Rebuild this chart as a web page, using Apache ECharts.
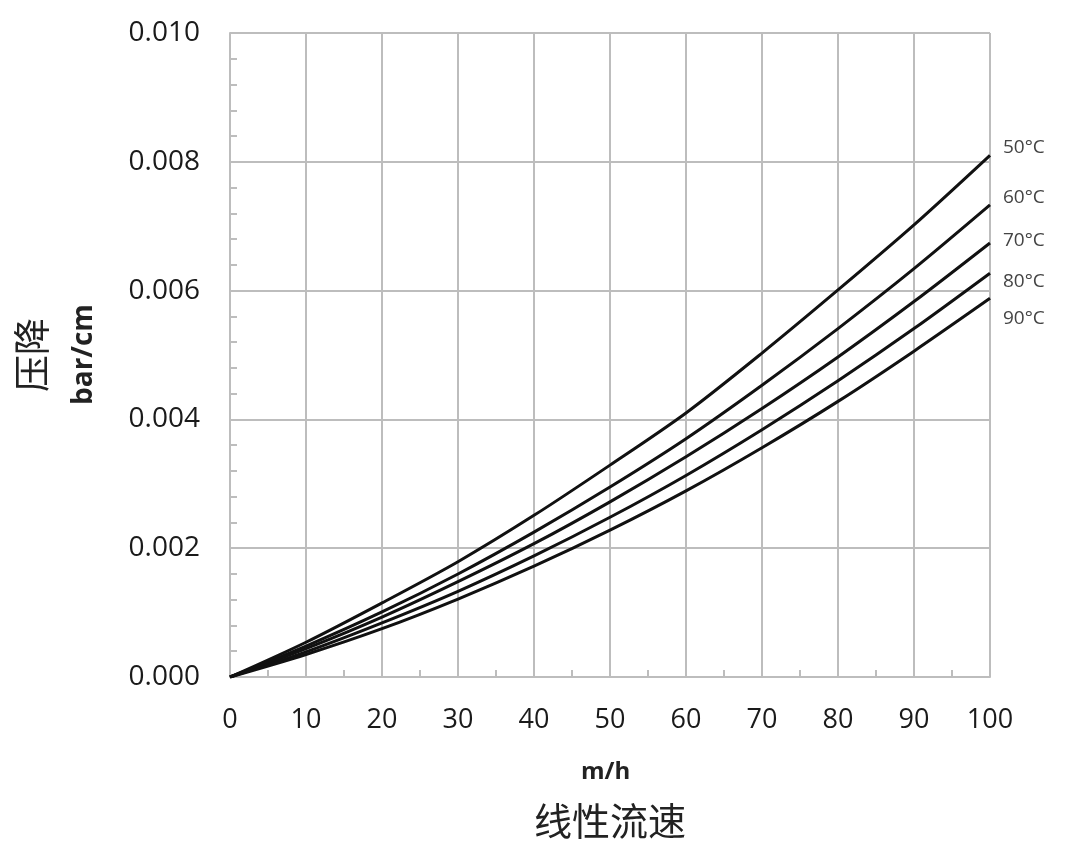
<!DOCTYPE html>
<html>
<head>
<meta charset="utf-8">
<script src="https://cdn.jsdelivr.net/npm/echarts@6/dist/echarts.min.js"></script>
<style>html,body{margin:0;padding:0;background:#fff;}#c{width:1070px;height:860px;}</style>
</head>
<body>
<div id="c"></div>
<script>
const xValues = [0, 10, 20, 30, 40, 50, 60, 70, 80, 90, 100];
const seriesNames = ['50°C', '60°C', '70°C', '80°C', '90°C'];
const t50 = [0, 0.00054, 0.00115, 0.00179, 0.00251, 0.00329, 0.00410, 0.00503, 0.00601, 0.00702, 0.00810];
const t60 = [0, 0.00048, 0.00101, 0.00160, 0.00225, 0.00295, 0.00370, 0.00453, 0.00541, 0.00634, 0.00733];
const t70 = [0, 0.00044, 0.00093, 0.00148, 0.00207, 0.00272, 0.00342, 0.00417, 0.00497, 0.00583, 0.00674];
const t80 = [0, 0.00039, 0.00084, 0.00133, 0.00188, 0.00248, 0.00313, 0.00384, 0.00460, 0.00541, 0.00627];
const t90 = [0, 0.00035, 0.00075, 0.00121, 0.00172, 0.00228, 0.00289, 0.00356, 0.00428, 0.00506, 0.00588];
const yTicks = ['0.000', '0.002', '0.004', '0.006', '0.008', '0.010'];
const labelOffsets = [[5, -8], [5, -7], [5, -2], [5, 8], [5, 20]];

const allData = [t50, t60, t70, t80, t90];
const chart = echarts.init(document.getElementById('c'));
const gray = '#bdbdbd';
const series = allData.map((arr, i) => ({
  name: seriesNames[i],
  type: 'line',
  smooth: 0.3,
  symbol: 'none',
  data: arr.map((v, j) => [xValues[j], v]),
  lineStyle: { color: '#111', width: 3 },
  endLabel: {
    show: true,
    formatter: seriesNames[i],
    offset: labelOffsets[i],
    color: '#444',
    fontSize: 19,
    fontFamily: 'Open Sans'
  },
  animation: false
}));

chart.setOption({
  animation: false,
  grid: { left: 230, right: 80, top: 33, bottom: 183 },
  xAxis: {
    type: 'value', min: 0, max: 100, interval: 10,
    axisLine: { show: true, lineStyle: { color: gray, width: 2 } },
    axisTick: { show: false, inside: true },
    minorTick: { show: true, splitNumber: 2, length: 7, lineStyle: { color: gray, width: 2 } },
    splitLine: { show: true, lineStyle: { color: gray, width: 2 } },
    axisLabel: { color: '#1a1a1a', fontSize: 27, fontFamily: 'Open Sans', margin: 30 }
  },
  yAxis: {
    type: 'value', min: 0, max: 0.010, interval: 0.002,
    axisLine: { show: true, lineStyle: { color: gray, width: 2 } },
    axisTick: { show: false, inside: true },
    minorTick: { show: true, splitNumber: 5, length: 7, lineStyle: { color: gray, width: 2 } },
    splitLine: { show: true, lineStyle: { color: gray, width: 2 } },
    axisLabel: {
      color: '#1a1a1a', fontSize: 28, fontFamily: 'Open Sans', margin: 30,
      formatter: (v) => yTicks[Math.round(v / 0.002)]
    }
  },
  graphic: [
    { type: 'text', left: 581, top: 760, style: { text: 'm/h', fontSize: 24, fontWeight: 'bold', fill: '#222', fontFamily: 'Open Sans' } },
    { type: 'text', left: 534, top: 802, style: { text: '线性流速', fontSize: 38, fill: '#222', fontFamily: 'Noto Sans CJK SC' } },
    { type: 'text', x: 13, y: 392, rotation: Math.PI / 2, style: { text: '压降', fontSize: 37, fill: '#222', fontFamily: 'Noto Sans CJK SC' } },
    { type: 'text', x: 70, y: 405, rotation: Math.PI / 2, style: { text: 'bar/cm', fontSize: 28, fontWeight: 'bold', fill: '#222', fontFamily: 'Open Sans' } }
  ],
  series: series
});
</script>
</body>
</html>
